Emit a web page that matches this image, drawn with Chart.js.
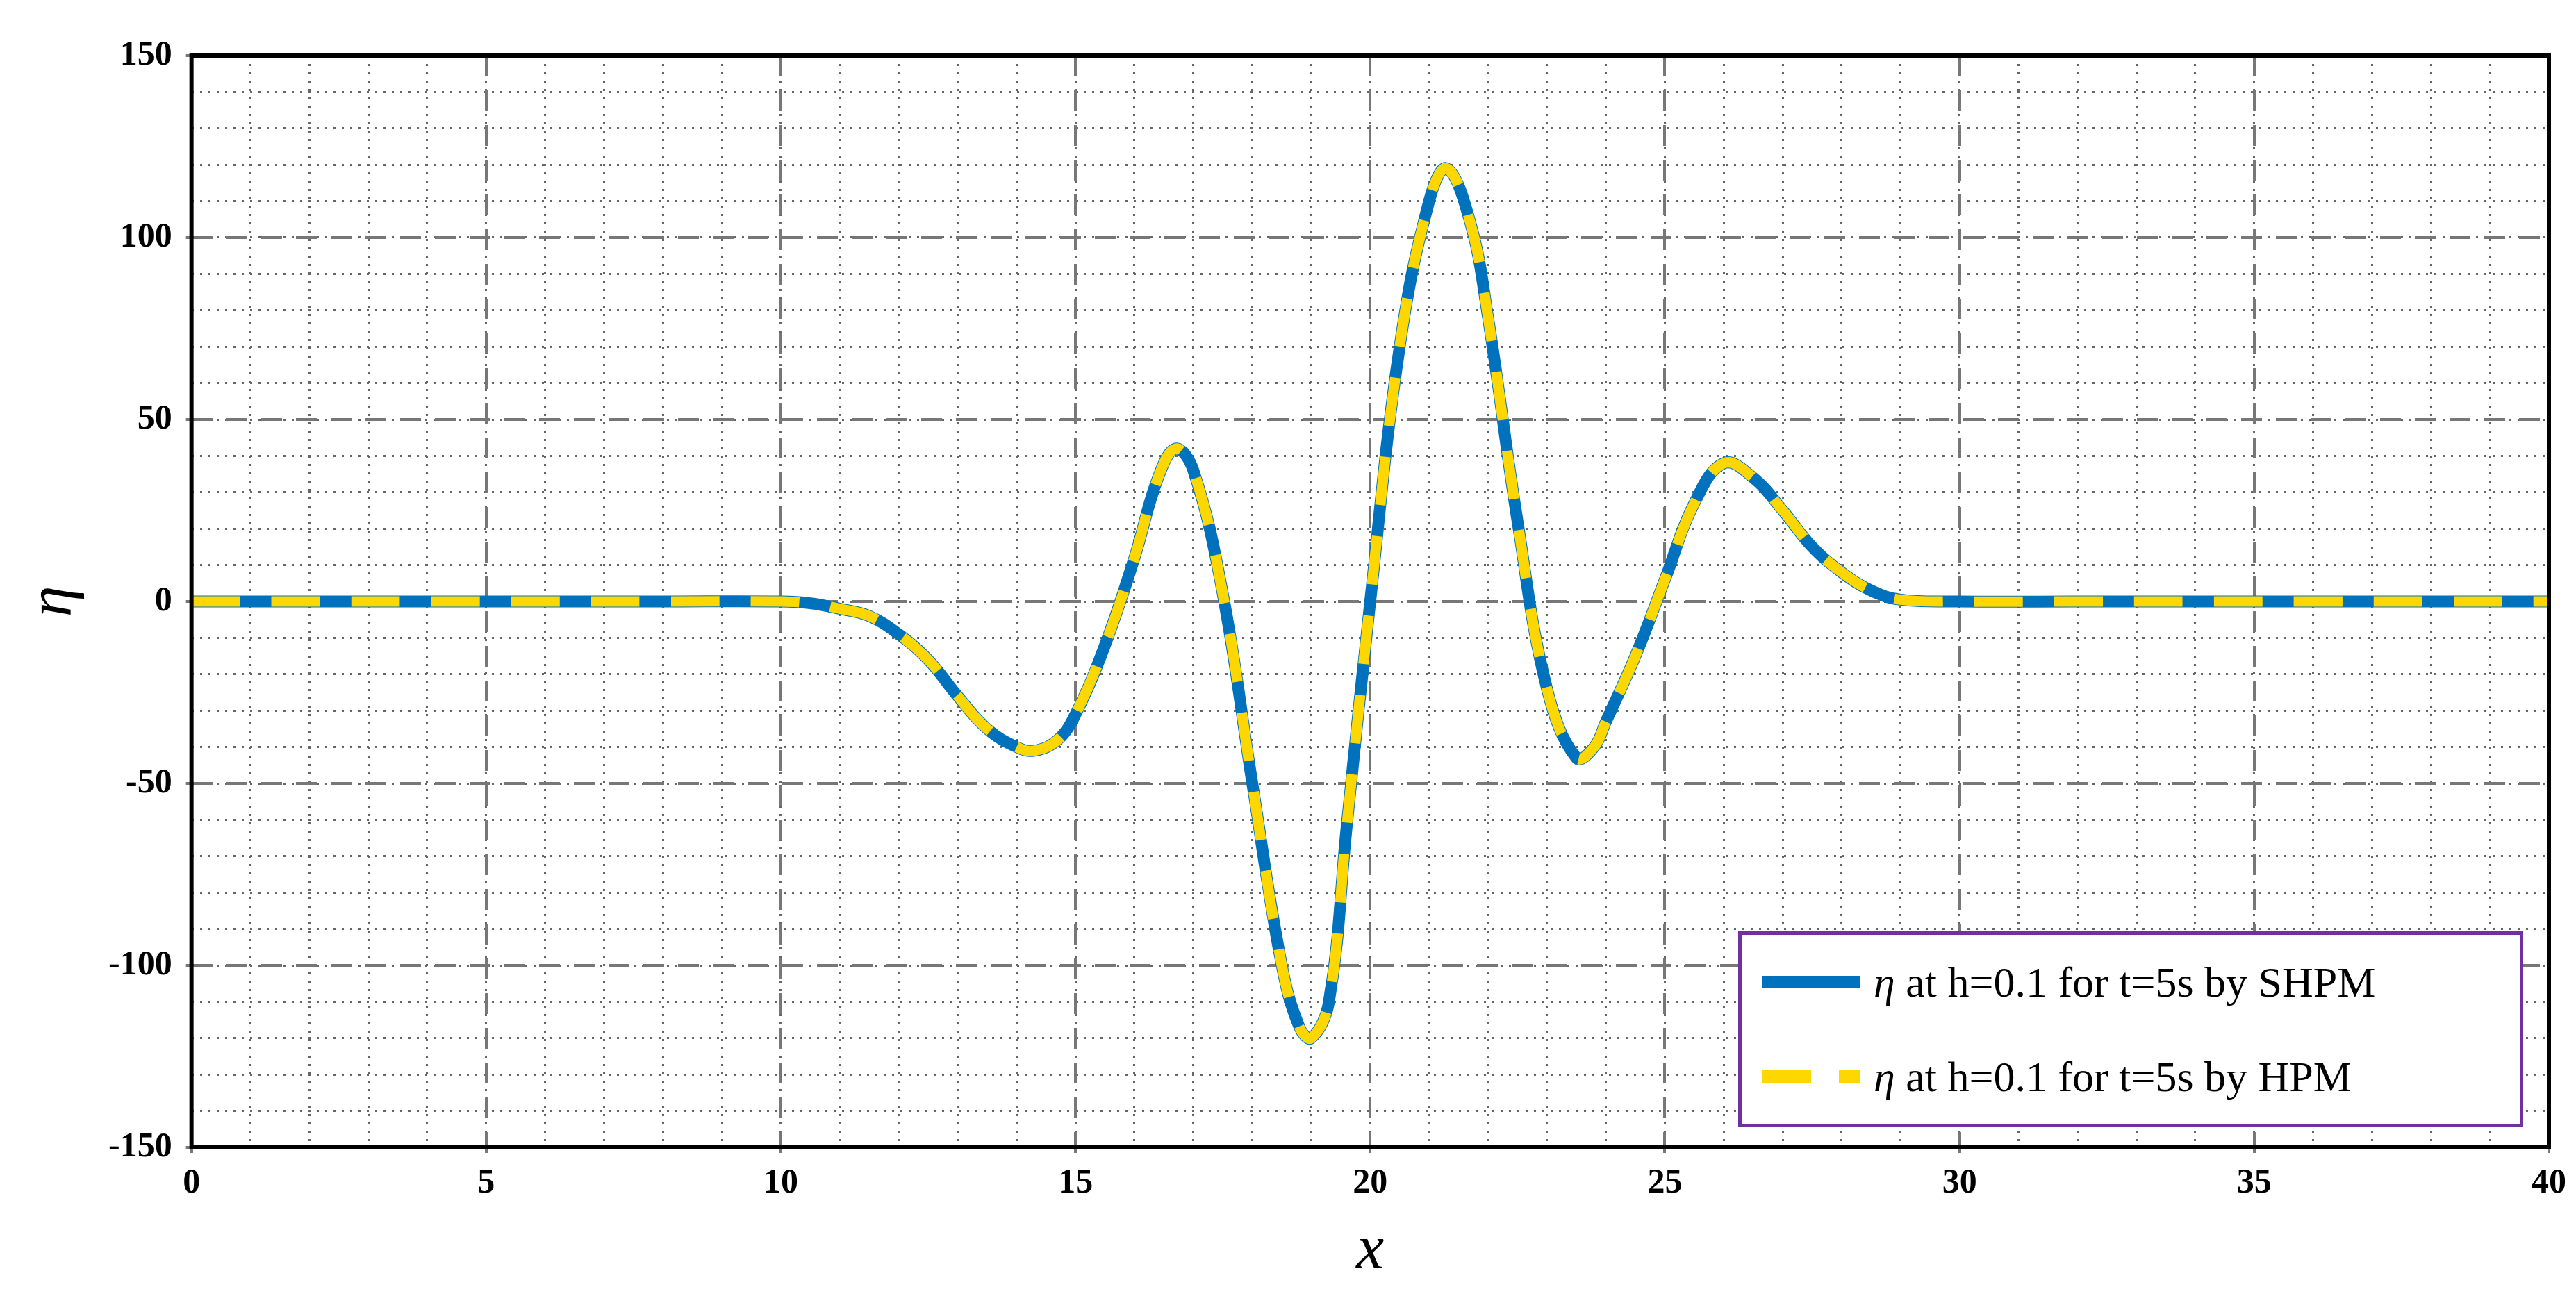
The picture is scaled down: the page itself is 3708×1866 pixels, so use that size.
<!DOCTYPE html>
<html>
<head>
<meta charset="utf-8">
<script src="https://cdn.jsdelivr.net/npm/chart.js@4/dist/chart.umd.min.js"></script>
<style>
body { margin: 0; background: #fff; }
#wrap { position: relative; width: 3708px; height: 1866px; }
#legend { position: absolute; left: 2502px; top: 1341px; width: 1120px; height: 272px;
  border: 5px solid #7030A0; background: #fff; font-family: "Liberation Serif", serif; font-size: 62px; }
.row { display: flex; align-items: center; height: 50%; padding-left: 30px; }
.sw { width: 140px; height: 18px; margin-right: 20px; }
</style>
</head>
<body>
<div id="wrap">
<canvas id="grafica" width="3708" height="1866"></canvas>
<div id="legend">
  <div class="row"><div class="sw" style="background:#0072BD"></div><span><i>η</i> at h=0.1 for t=5s by SHPM</span></div>
  <div class="row"><div class="sw" style="background:repeating-linear-gradient(90deg,#FFD700 0 70px,#fff 70px 110px)"></div><span><i>η</i> at h=0.1 for t=5s by HPM</span></div>
</div>
</div>
<script>
const xs = [0, 2, 4, 6, 8, 10, 10.5, 11, 11.5, 12, 12.5, 13, 13.5, 14, 14.3, 14.7, 15, 15.5, 16, 16.4, 16.7, 17, 17.5, 18, 18.5, 18.8, 19, 19.3, 19.6, 20, 20.5, 21, 21.3, 21.7, 22, 22.5, 23, 23.5, 23.8, 24, 24.5, 25, 25.5, 26, 26.5, 27, 27.5, 28, 28.5, 29, 30, 32, 34, 36, 38, 40];
const etaShpm = [0, 0, 0, 0, 0, 0, -0.5, -2, -4, -9, -16, -26, -35, -40, -41, -38, -31, -12, 12, 34, 42, 36, 2, -50, -100, -117, -120, -110, -62, 0, 70, 110, 119, 104, 78, 22, -24, -43, -40, -33, -15, 6, 27, 38, 34, 25, 15, 8, 3, 0.5, 0, 0, 0, 0, 0, 0];
const etaHpm = etaShpm.slice();
const yTicks = [-150, -100, -50, 0, 50, 100, 150];

const serif = "'Liberation Serif', serif";

const frame = {
  id: 'frame',
  afterDraw(chart) {
    const a = chart.chartArea, c = chart.ctx;
    c.save(); c.strokeStyle = '#000'; c.lineWidth = 6;
    c.strokeRect(a.left, a.top, a.right - a.left, a.bottom - a.top);
    c.restore();
  }
};

new Chart(document.getElementById('grafica').getContext('2d'), {
  type: 'line',
  data: {
    datasets: [
      { data: xs.map((x, i) => ({ x: x, y: etaShpm[i] })), borderColor: '#0072BD', borderWidth: 17, pointRadius: 0, tension: 0.4, order: 2 },
      { data: xs.map((x, i) => ({ x: x, y: etaHpm[i] })), borderColor: '#FFD700', borderWidth: 15, borderDash: [70, 45], pointRadius: 0, tension: 0.4, order: 1 }
    ]
  },
  options: {
    responsive: false,
    animation: false,
    layout: { padding: { top: 80, right: 35, left: 20, bottom: 10 } },
    plugins: { legend: { display: false }, tooltip: { enabled: false } },
    scales: {
      xMinor: {
        type: 'linear', min: 0, max: 40, position: 'bottom', display: true,
        ticks: { stepSize: 1, display: false },
        grid: { color: '#666', lineWidth: 3, drawTicks: false },
        border: { display: false, dash: [3, 9] }
      },
      yMinor: {
        type: 'linear', min: -150, max: 150, position: 'left',
        ticks: { stepSize: 10, display: false },
        grid: { color: '#666', lineWidth: 3, drawTicks: false },
        border: { display: false, dash: [3, 9] }
      },
      x: {
        type: 'linear', min: 0, max: 40,
        ticks: { stepSize: 5, font: { family: serif, size: 50, weight: 'bold' }, color: '#000', padding: 14 },
        grid: { color: '#777', lineWidth: 4 },
        border: { display: false, dash: [30, 20] },
        title: { display: true, text: 'x', font: { family: serif, size: 90, style: 'italic' }, color: '#000', padding: 0 }
      },
      y: {
        type: 'linear', min: -150, max: 150,
        afterBuildTicks: s => { s.ticks = yTicks.map(v => ({ value: v })); },
        ticks: { font: { family: serif, size: 50, weight: 'bold' }, color: '#000', padding: 20 },
        grid: { color: '#777', lineWidth: 4 },
        border: { display: false, dash: [30, 20] },
        title: { display: true, text: 'η', font: { family: serif, size: 90, style: 'italic' }, color: '#000' }
      }
    }
  },
  plugins: [frame]
});
</script>
</body>
</html>
